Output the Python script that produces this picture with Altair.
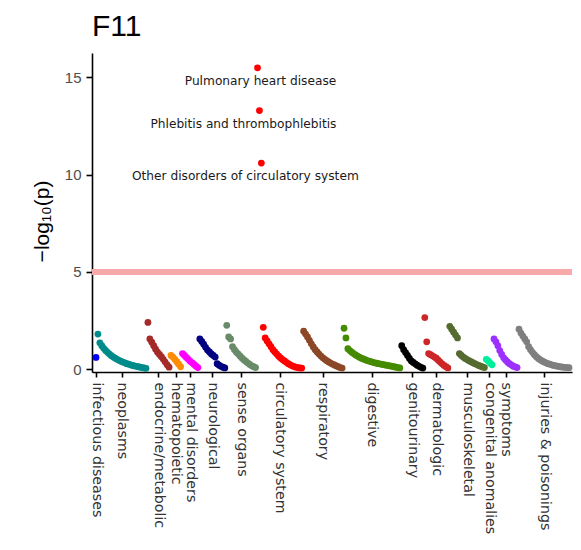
import altair as alt
import pandas as pd

# Phenotype groups, in plotting order, with their colours
categories = [
    "infectious diseases", "neoplasms", "endocrine/metabolic", "hematopoietic",
    "mental disorders", "neurological", "sense organs", "circulatory system",
    "respiratory", "digestive", "genitourinary", "dermatologic",
    "musculoskeletal", "congenital anomalies", "symptoms", "injuries & poisonings",
]
colors = [
    "#0000FF", "#008B8B", "#A52A2A", "#FF8C00",
    "#FF00FF", "#000080", "#698B69", "#FF0000",
    "#8B4726", "#458B00", "#000000", "#CD2626",
    "#556B2F", "#00EE99", "#9B30FF", "#7F7F7F",
]

# -log10(p) per phenotype, sorted within each group
infectious = [0.6]
neoplasms = [1.8, 1.35, 1.2, 1.07, 0.96, 0.86, 0.77, 0.69, 0.62, 0.56, 0.5, 0.45, 0.4,
             0.36, 0.32, 0.28, 0.25, 0.22, 0.19, 0.16, 0.14, 0.12, 0.1, 0.08, 0.06, 0.04]
endocrine = [2.4, 1.55, 1.38, 1.2, 1.02, 0.87, 0.75, 0.64, 0.5, 0.36, 0.22, 0.1]
hematopoietic = [0.7, 0.62, 0.5, 0.38, 0.25, 0.12]
mental = [0.8, 0.7, 0.6, 0.5, 0.4, 0.32, 0.24, 0.15, 0.08]
neurological = [1.55, 1.42, 1.28, 1.12, 0.98, 0.88, 0.78, 0.7, 0.62, 0.28, 0.2, 0.14, 0.1, 0.06]
sense = [2.25, 1.65, 1.55, 1.15, 1.0, 0.87, 0.77, 0.66, 0.56, 0.47, 0.39, 0.31, 0.24,
         0.17, 0.12, 0.08]
circulatory = [15.5, 13.3, 10.6, 2.15, 1.6, 1.45, 1.3, 1.15, 1.0, 0.88, 0.77, 0.66, 0.57,
               0.49, 0.42, 0.35, 0.28, 0.22, 0.17, 0.13, 0.1, 0.08, 0.06, 0.05]
respiratory = [1.95, 1.8, 1.65, 1.48, 1.3, 1.14, 1.0, 0.88, 0.77, 0.67, 0.58, 0.5, 0.43,
               0.37, 0.31, 0.26, 0.21, 0.16, 0.12, 0.08, 0.05]
digestive = [2.1, 1.6, 1.05, 0.95, 0.87, 0.8, 0.73, 0.67, 0.61, 0.56, 0.52, 0.48, 0.44,
             0.41, 0.38, 0.35, 0.32, 0.3, 0.28, 0.26, 0.24, 0.22, 0.2, 0.18, 0.16, 0.14,
             0.12, 0.1, 0.08, 0.06]
genitourinary = [1.2, 1.0, 0.85, 0.7, 0.55, 0.42, 0.34, 0.27, 0.2, 0.14, 0.09, 0.05]
dermatologic = [2.65, 1.4, 0.8, 0.74, 0.68, 0.62, 0.56, 0.46, 0.36, 0.27, 0.19, 0.12, 0.06]
musculoskeletal = [2.2, 2.05, 1.9, 1.75, 1.6, 0.8, 0.7, 0.62, 0.55, 0.49, 0.43, 0.38, 0.33,
                   0.28, 0.23, 0.19, 0.15, 0.11, 0.08]
congenital = [0.5, 0.42, 0.3, 0.22]
symptoms = [1.55, 1.4, 1.2, 0.95, 0.75, 0.58, 0.47, 0.37, 0.28, 0.21, 0.15, 0.11, 0.08]
injuries = [2.05, 1.85, 1.7, 1.55, 1.4, 1.15, 1.0, 0.86, 0.74, 0.64, 0.55, 0.48, 0.42, 0.37,
            0.32, 0.28, 0.25, 0.22, 0.19, 0.17, 0.15, 0.13, 0.11, 0.1, 0.09, 0.08, 0.07]

# Names of the three strongest circulatory hits (first three circulatory values)
top_labels = ["Pulmonary heart disease", "Phlebitis and thrombophlebitis",
              "Other disorders of circulatory system"]

threshold = [5]

groups = [infectious, neoplasms, endocrine, hematopoietic, mental, neurological, sense,
          circulatory, respiratory, digestive, genitourinary, dermatologic,
          musculoskeletal, congenital, symptoms, injuries]

rows = []
i = 0
for cat, vals in zip(categories, groups):
    for v in vals:
        rows.append({"idx": i, "group": cat, "logp": v})
        i += 1
df = pd.DataFrame(rows)
n = len(df)

# Group tick positions at the middle of each group's run of points
centers = [float(df.loc[df.group == c, "idx"].mean()) for c in categories]
label_expr = " : ".join(
    f"datum.value == {c} ? '{name}'" for c, name in zip(centers, categories)
) + " : ''"

W, H = 480, 319
unit = 473 / (n - 1)
x0 = -4 / unit
x_scale = alt.Scale(domain=[x0, x0 + W / unit], nice=False, zero=False)
y_scale = alt.Scale(domain=[-0.15, 16.26], nice=False, zero=False)

x_axis = alt.Axis(values=centers, labelExpr=label_expr, labelAngle=90, labelAlign="left",
                  labelBaseline="middle", labelOverlap=False, labelBound=False,
                  labelFontSize=14.2, labelColor="#333333", labelFont="DejaVu Sans",
                  labelPadding=5, tickSize=5, tickColor="black", domainColor="black",
                  domainWidth=1.6, tickWidth=1.6, grid=False, title=None)
y_axis = alt.Axis(values=[0, 5, 10, 15], labelFontSize=15, labelColor="#4D4D4D",
                  labelFont="Liberation Sans", labelPadding=5, tickSize=6,
                  tickColor="black", tickWidth=1.6, domainColor="black", domainWidth=1.6,
                  grid=False, title="−log₁₀(p)", titleFontSize=21,
                  titleFont="Liberation Sans", titleFontWeight="normal",
                  titleColor="black", titlePadding=12, titleY=168)

rule = alt.Chart(pd.DataFrame({"logp": threshold})).mark_rule(
    color="#F7A8A8", strokeWidth=6
).encode(y=alt.Y("logp:Q", scale=y_scale, axis=y_axis))

points = alt.Chart(df).mark_circle(size=46, opacity=1).encode(
    x=alt.X("idx:Q", scale=x_scale, axis=x_axis),
    y=alt.Y("logp:Q", scale=y_scale, axis=y_axis),
    color=alt.Color("group:N", scale=alt.Scale(domain=categories, range=colors), legend=None),
)

circ = df[df.group == "circulatory system"].head(3).reset_index(drop=True)
label_layers = []
for k, dx in enumerate([3, -16, -16]):
    d = pd.DataFrame({"idx": [circ.idx[k]], "logp": [circ.logp[k]], "label": [top_labels[k]]})
    label_layers.append(
        alt.Chart(d).mark_text(dx=dx, dy=13, fontSize=12.2, font="DejaVu Sans",
                               color="#1a1a1a", align="center", baseline="middle")
        .encode(x=alt.X("idx:Q", scale=x_scale, axis=x_axis),
                y=alt.Y("logp:Q", scale=y_scale, axis=y_axis), text="label:N")
    )

chart = alt.layer(rule, points, *label_layers).properties(
    width=W, height=H,
    title=alt.TitleParams("F11", anchor="start", frame="group", fontSize=30,
                          font="Liberation Sans", fontWeight="normal", color="black",
                          offset=11),
    autosize=alt.AutoSizeParams(type="none"),
    padding={"left": 92, "top": 53, "right": 9, "bottom": 178},
).configure_view(stroke=None)

chart.save("out.html", embed_options={"renderer": "svg", "actions": False})
